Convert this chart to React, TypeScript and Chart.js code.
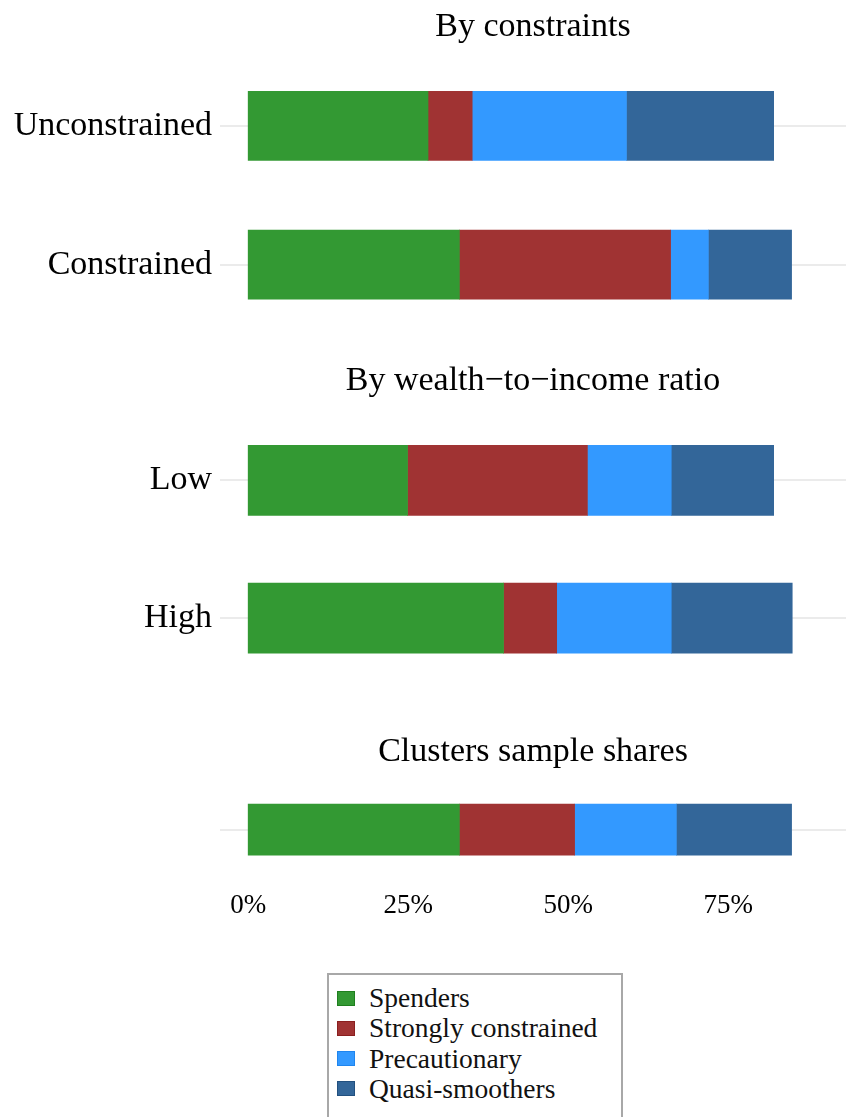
import React, { useEffect, useRef } from "react";
import { Chart, registerables } from "chart.js";

Chart.register(...registerables);

const seriesNames = ["Spenders", "Strongly constrained", "Precautionary", "Quasi-smoothers"];
const seriesColors = ["#339933", "#A03333", "#3399FF", "#336699"];
const seriesBorders = ["#1f7f1f", "#8a1f1f", "#1f85ee", "#22507f"];

const panel1Title = "By constraints";
const panel1Categories = ["Unconstrained", "Constrained"];
const panel1Spenders = [28.1, 33.0];
const panel1Strongly = [6.9, 33.0];
const panel1Precautionary = [24.1, 5.9];
const panel1Quasi = [23.0, 13.0];

const panel2Title = "By wealth\u2212to\u2212income ratio";
const panel2Categories = ["Low", "High"];
const panel2Spenders = [24.9, 39.9];
const panel2Strongly = [28.1, 8.3];
const panel2Precautionary = [13.1, 17.9];
const panel2Quasi = [16.0, 18.9];

const panel3Title = "Clusters sample shares";
const panel3Categories = [""];
const panel3Spenders = [33.0];
const panel3Strongly = [18.0];
const panel3Precautionary = [15.9];
const panel3Quasi = [18.0];

const xTicks = [0, 25, 50, 75];
const xMin = -4.4;
const xMax = 93.4;

const FONT = "'Liberation Serif', 'Times New Roman', serif";

type PanelProps = {
  title: string;
  categories: string[];
  series: number[][];
  height: number;
  titlePadTop: number;
  titlePadBottom: number;
  barThickness: number;
  showX: boolean;
};

function Panel(props: PanelProps) {
  const ref = useRef<HTMLCanvasElement | null>(null);
  useEffect(() => {
    if (!ref.current) return;
    const chart = new Chart(ref.current, {
      type: "bar",
      data: {
        labels: props.categories,
        datasets: props.series.map((vals, i) => ({
          label: seriesNames[i],
          data: vals,
          backgroundColor: seriesColors[i],
          borderWidth: 0,
          barThickness: props.barThickness,
        })),
      },
      options: {
        indexAxis: "y",
        animation: false,
        responsive: false,
        maintainAspectRatio: false,
        layout: { padding: 0 },
        plugins: {
          legend: { display: false },
          tooltip: { enabled: false },
          title: {
            display: true,
            text: props.title,
            fullSize: false,
            color: "#000",
            font: { family: FONT, size: 34, weight: "normal", lineHeight: 1.1 },
            padding: { top: props.titlePadTop, bottom: props.titlePadBottom },
          },
        },
        scales: {
          x: {
            type: "linear",
            stacked: true,
            min: xMin,
            max: xMax,
            display: props.showX,
            border: { display: false },
            grid: { display: false, drawTicks: false },
            afterBuildTicks: (scale: any) => {
              scale.ticks = xTicks.map((v) => ({ value: v }));
            },
            afterFit: (scale: any) => {
              scale.height = props.showX ? 60 : 0;
              scale.paddingLeft = 0;
              scale.paddingRight = 0;
            },
            ticks: {
              padding: 21,
              color: "#000",
              font: { family: FONT, size: 27 },
              callback: (v: any) => `${v}%`,
            },
          },
          y: {
            type: "category",
            stacked: true,
            offset: true,
            border: { display: false },
            grid: {
              offset: false,
              drawTicks: false,
              color: "#ebebeb",
              lineWidth: 2,
            },
            afterFit: (scale: any) => {
              scale.width = 220;
              scale.paddingTop = 0;
              scale.paddingBottom = 0;
            },
            ticks: {
              padding: 8,
              color: "#000",
              font: { family: FONT, size: 34 },
            },
          },
        },
      },
    });
    return () => chart.destroy();
  }, []);
  return (
    <canvas
      ref={ref}
      width={846}
      height={props.height}
      style={{ display: "block", width: 846, height: props.height }}
    />
  );
}

function Legend() {
  return (
    <div
      style={{
        position: "absolute",
        left: 327,
        top: 973,
        width: 292,
        height: 160,
        border: "2px solid #a8a8a8",
        boxSizing: "content-box",
        fontFamily: FONT,
        fontSize: 27.5,
        color: "#111",
      }}
    >
      {seriesNames.map((name, i) => (
        <div
          key={name}
          style={{
            position: "absolute",
            left: 8,
            top: 8 + i * 30.3,
            height: 30,
            display: "flex",
            alignItems: "center",
            whiteSpace: "nowrap",
          }}
        >
          <span
            style={{
              display: "inline-block",
              width: 16,
              height: 13,
              background: seriesColors[i],
              border: `1.5px solid ${seriesBorders[i]}`,
              marginRight: 14,
            }}
          />
          <span>{name}</span>
        </div>
      ))}
    </div>
  );
}

export default function App() {
  return (
    <div style={{ position: "absolute", left: 0, top: 0, width: 846, height: 1117, overflow: "hidden", background: "#fff" }}>
      <Panel
        title={panel1Title}
        categories={panel1Categories}
        series={[panel1Spenders, panel1Strongly, panel1Precautionary, panel1Quasi]}
        height={334}
        titlePadTop={8}
        titlePadBottom={11}
        barThickness={69}
        showX={false}
      />
      <Panel
        title={panel2Title}
        categories={panel2Categories}
        series={[panel2Spenders, panel2Strongly, panel2Precautionary, panel2Quasi]}
        height={353}
        titlePadTop={28}
        titlePadBottom={12}
        barThickness={70}
        showX={false}
      />
      <Panel
        title={panel3Title}
        categories={panel3Categories}
        series={[panel3Spenders, panel3Strongly, panel3Precautionary, panel3Quasi]}
        height={242}
        titlePadTop={46}
        titlePadBottom={20}
        barThickness={51}
        showX={true}
      />
      <Legend />
    </div>
  );
}
